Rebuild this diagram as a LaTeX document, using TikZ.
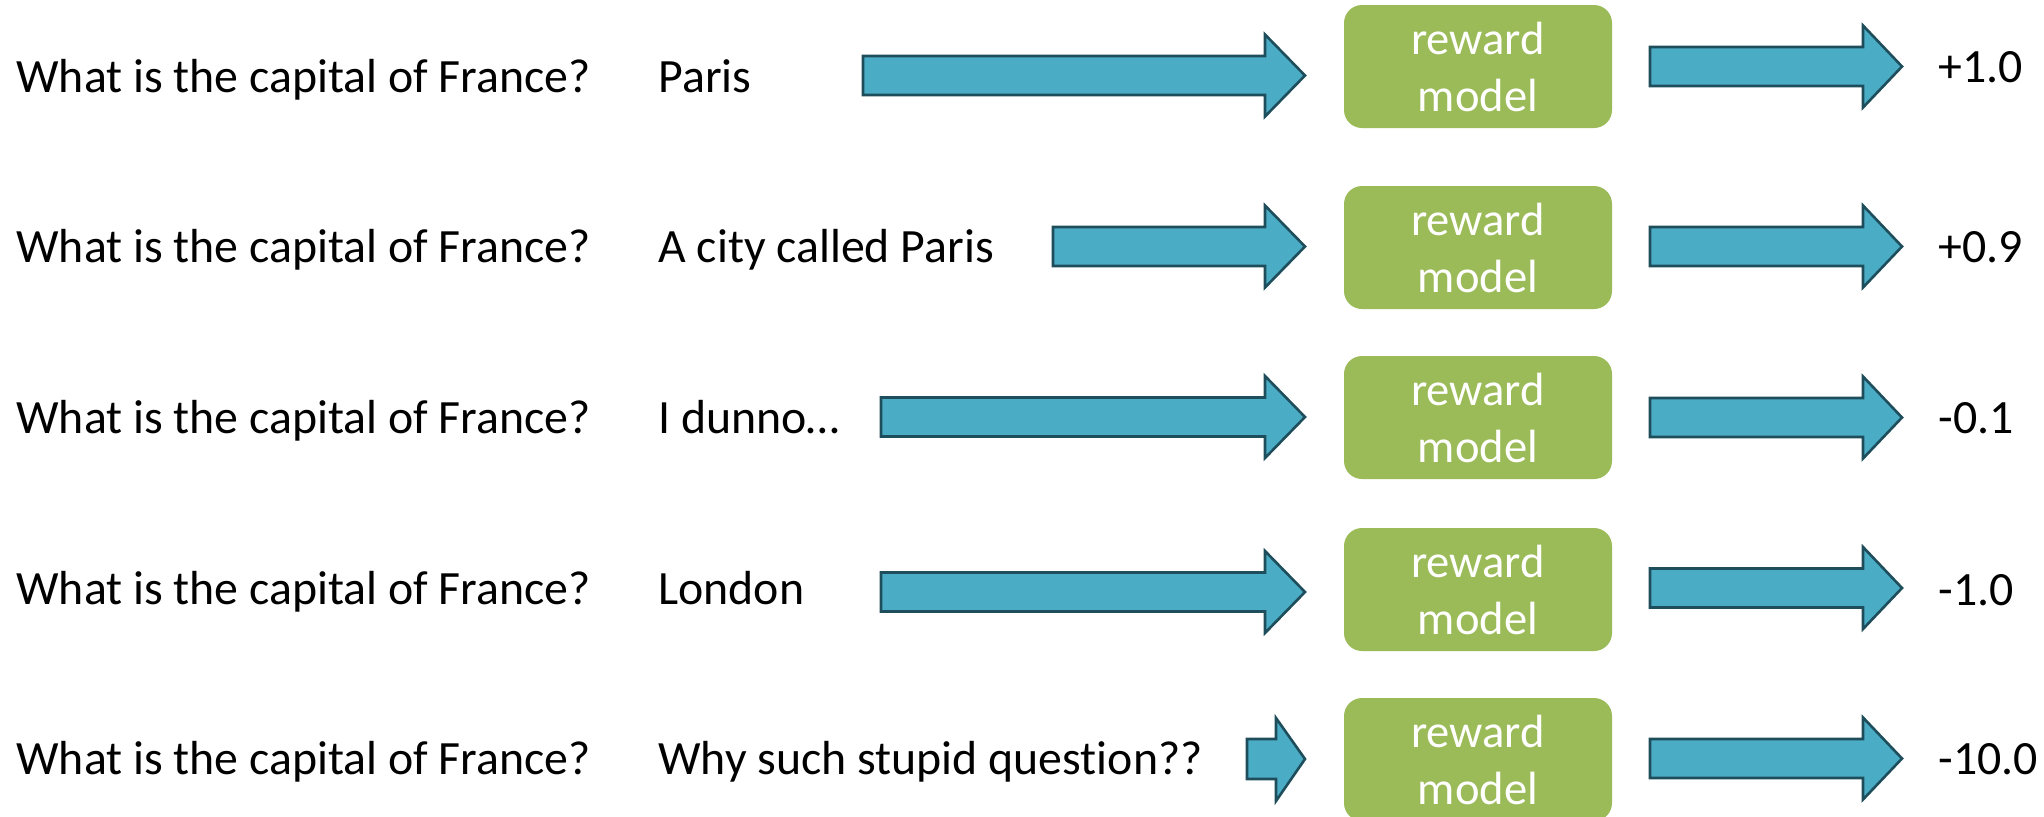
\documentclass[tikz,border=0pt]{standalone}
\usepackage{fontspec}
\setmainfont{Carlito}[Ligatures=NoCommon]

\definecolor{arrowfill}{HTML}{4BACC6}
\definecolor{arrowline}{HTML}{1E4D5B}
\definecolor{modelgreen}{HTML}{9BBB59}

\tikzset{
  labeltext/.style={anchor=base west, inner sep=0pt, text=black,
    font=\fontsize{23.9pt}{28pt}\selectfont},
  modelbox/.style={rectangle, rounded corners=9pt, fill=modelgreen, text=white,
    minimum width=134pt, minimum height=61.5pt, inner sep=0pt, align=center,
    font=\fontsize{23.3pt}{28.5pt}\selectfont},
  blockarrow/.style={fill=arrowfill, draw=arrowline, line width=1.3pt, line join=miter},
}

% block arrow: #1 tail x, #2 head base x, #3 tip x, #4 centre y
\newcommand\blockarrow[4]{%
  \draw[blockarrow] (#1,#4-19.5) -- (#2,#4-19.5) -- (#2,#4-41) -- (#3,#4)
    -- (#2,#4+41) -- (#2,#4+19.5) -- (#1,#4+19.5) -- cycle;}

\begin{document}
\begin{tikzpicture}[x=0.5pt,y=-0.5pt]
  \useasboundingbox (0,0) rectangle (2044,816);
  \clip (0,0) rectangle (2044,816);

  % questions
  \node[labeltext] (q1) at (16,92)    {What is the capital of France?};
  \node[labeltext] (q2) at (16,262.5) {What is the capital of France?};
  \node[labeltext] (q3) at (16,433)   {What is the capital of France?};
  \node[labeltext] (q4) at (16,604)   {What is the capital of France?};
  \node[labeltext] (q5) at (16,774)   {What is the capital of France?};

  % answers
  \node[labeltext] (a1) at (658,92)    {Paris};
  \node[labeltext] (a2) at (658,262.5) {A city called Paris};
  \node[labeltext] (a3) at (658,433)   {I dunno…};
  \node[labeltext] (a4) at (658,604)   {London};
  \node[labeltext] (a5) at (658,774)   {Why such stupid question??};

  % reward models
  \node[modelbox] (m1) at (1478,66.5)  {reward\\model};
  \node[modelbox] (m2) at (1478,247.5) {reward\\model};
  \node[modelbox] (m3) at (1478,417.5) {reward\\model};
  \node[modelbox] (m4) at (1478,589.5) {reward\\model};
  \node[modelbox] (m5) at (1478,759.5) {reward\\model};

  % scores
  \node[labeltext] (s1) at (1938,82)  {+1.0};
  \node[labeltext] (s2) at (1938,262) {+0.9};
  \node[labeltext] (s3) at (1938,433) {-0.1};
  \node[labeltext] (s4) at (1938,605) {-1.0};
  \node[labeltext] (s5) at (1938,774) {-10.0};

  % answer -> model arrows
  \blockarrow{863}{1265}{1305}{75.5}
  \blockarrow{1053}{1265}{1305}{246.5}
  \blockarrow{881}{1265}{1305}{417}
  \blockarrow{881}{1265}{1305}{592}
  \draw[blockarrow] (1247,739) -- (1276,739) -- (1276,718) -- (1305,759)
    -- (1276,801) -- (1276,779) -- (1247,779) -- cycle;

  % model -> score arrows
  \blockarrow{1650}{1863}{1902}{66.5}
  \blockarrow{1650}{1863}{1902}{246.5}
  \blockarrow{1650}{1863}{1902}{417.5}
  \blockarrow{1650}{1863}{1902}{588}
  \blockarrow{1650}{1863}{1902}{758.5}
\end{tikzpicture}
\end{document}
